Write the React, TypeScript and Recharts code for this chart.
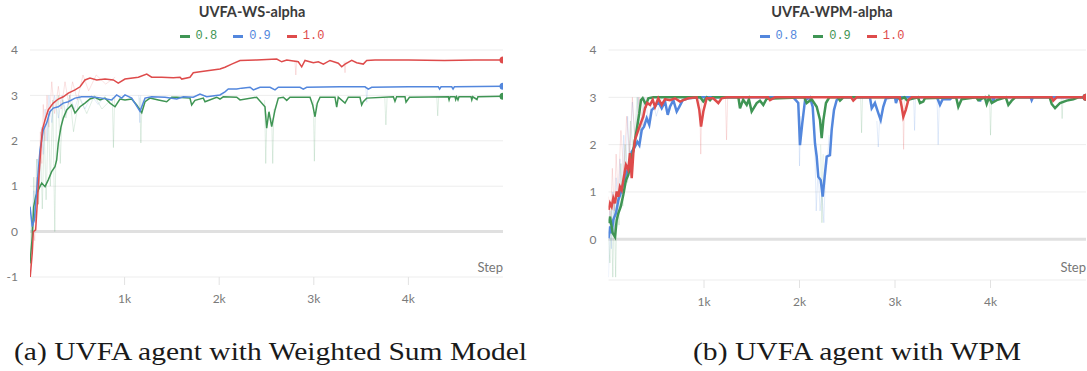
import React from 'react';
import { LineChart, Line, XAxis, YAxis, CartesianGrid, ReferenceLine } from 'recharts';

type Pt = [number, number | null];

const GREEN = '#3f9554';
const BLUE = '#5387dd';
const RED = '#de4b4b';

const X_TICKS = [1000, 2000, 3000, 4000];
const X_TICK_LABELS = ['1k', '2k', '3k', '4k'];
const WS_Y_TICKS = [-1, 0, 1, 2, 3, 4];
const WPM_Y_TICKS = [0, 1, 2, 3, 4];

// UVFA-WS-alpha, smoothed  (step, value)
const wsGreen: Pt[] = [
  [0, -0.7], [24, -0.11], [39, 0.55], [60, 0.77], [88, 0.92], [124, 1.07], [159, 0.99], [193, 1.14],
  [229, 1.32], [264, 1.43], [282, 1.58], [299, 1.95], [328, 2.31], [352, 2.5], [388, 2.68], [441, 2.79],
  [476, 2.61], [529, 2.75], [581, 2.83], [634, 2.92], [687, 2.96], [740, 2.9], [793, 2.94], [846, 2.83],
  [899, 2.75], [951, 2.92], [1004, 2.9], [1075, 2.92], [1128, 2.79], [1181, 2.62], [1216, 2.86], [1268, 2.94],
  [1357, 2.9], [1445, 2.86], [1498, 2.96], [1551, 2.96], [1691, 2.94], [1709, 2.79], [1744, 2.89], [1832, 2.94],
  [1850, 2.86], [1973, 2.96], [2008, 2.92], [2043, 2.97], [2185, 2.96], [2220, 2.9], [2396, 2.96], [2484, 2.75],
  [2502, 2.28], [2526, 2.64], [2555, 2.31], [2590, 2.68], [2625, 2.94], [2678, 2.96], [2714, 2.89], [2748, 2.96],
  [2960, 2.96], [2988, 2.79], [3013, 2.53], [3037, 2.83], [3066, 2.96], [3224, 2.96], [3242, 2.74], [3259, 2.96],
  [3330, 2.83], [3365, 2.96], [3488, 2.96], [3506, 2.79], [3523, 2.86], [3559, 2.94], [3841, 2.97], [3858, 2.87],
  [3876, 2.97], [3964, 2.97], [3975, 2.85], [4011, 2.96], [4422, 2.97], [4430, 2.9], [4440, 2.97], [4493, 2.97],
  [4500, 2.91], [4510, 2.97], [4524, 2.9], [4535, 2.97], [4662, 2.97], [4670, 2.9], [4680, 2.97], [4725, 2.91],
  [4735, 2.97], [5000, 2.98],
];
const wsBlue: Pt[] = [
  [0, 0.55], [24, 0.11], [46, 0.26], [71, 0.92], [106, 1.8], [141, 2.24], [176, 2.39], [211, 2.64],
  [246, 2.72], [299, 2.75], [352, 2.83], [405, 2.86], [476, 2.94], [546, 2.97], [652, 2.97], [758, 2.94],
  [864, 2.9], [916, 3.01], [969, 2.94], [1004, 3.01], [1075, 2.94], [1163, 2.65], [1216, 2.94], [1286, 2.97],
  [1427, 2.96], [1551, 2.92], [1621, 2.97], [1726, 2.96], [1797, 3.03], [1868, 2.97], [2008, 3.01], [2061, 3.08],
  [2096, 3.14], [2185, 3.14], [2238, 3.16], [2326, 3.18], [2361, 3.12], [2431, 3.18], [2537, 3.18], [2590, 3.12],
  [2625, 3.18], [2854, 3.18], [2889, 3.14], [2925, 3.18], [3277, 3.19], [3541, 3.19], [3576, 3.14], [3612, 3.18],
  [4000, 3.19], [4316, 3.19], [4330, 3.14], [4345, 3.19], [4458, 3.19], [4472, 3.14], [4486, 3.19], [5000, 3.2],
];
const wsRed: Pt[] = [
  [0, -1.05], [24, -0.47], [35, 0.0], [60, 0.04], [81, 0.77], [106, 1.58], [130, 2.24], [159, 2.46],
  [193, 2.68], [246, 2.83], [299, 2.92], [352, 2.97], [405, 3.05], [476, 3.12], [529, 3.19], [581, 3.34],
  [634, 3.38], [705, 3.34], [793, 3.36], [881, 3.34], [933, 3.27], [1004, 3.36], [1145, 3.4], [1234, 3.47],
  [1286, 3.4], [1392, 3.4], [1515, 3.39], [1586, 3.4], [1604, 3.36], [1691, 3.4], [1726, 3.5], [1797, 3.52],
  [2008, 3.58], [2061, 3.62], [2132, 3.69], [2220, 3.77], [2396, 3.78], [2608, 3.8], [2661, 3.74], [2714, 3.78],
  [2836, 3.74], [2872, 3.63], [2907, 3.77], [2995, 3.72], [3048, 3.74], [3101, 3.69], [3171, 3.77], [3259, 3.71],
  [3295, 3.63], [3330, 3.69], [3401, 3.77], [3453, 3.72], [3523, 3.69], [3559, 3.77], [3647, 3.78], [4000, 3.78],
  [4380, 3.77], [4700, 3.78], [5000, 3.78],
];

// UVFA-WS-alpha, raw (faint) segments, null breaks the line
const wsGreenRaw: Pt[] = [
  [0, -0.8], [15, 0.3], [25, -0.3], [40, 1.2], [55, 0.2], [70, 1.6], [90, 0.6], [110, 1.9], [130, 0.5],
  [150, 2.3], [170, 0.7], [195, 2.6], [215, 1.0], [240, 2.9], [262, 0.0], [280, 2.7], [300, 3.0], [320, 1.5],
  [345, 2.9], [380, 2.5], [420, 3.0], [460, 2.2], [520, 2.95], [600, 2.6], [680, 3.0], [760, 2.7], [880, 2.96],
  [0, null], [870, 2.95], [882, 1.85], [895, 2.95], [0, null], [1160, 2.95], [1172, 1.95], [1185, 2.9], [0, null],
  [2480, 2.9], [2492, 1.5], [2505, 2.6], [0, null], [2555, 2.5], [2566, 1.5], [2578, 2.7], [0, null],
  [2995, 2.9], [3006, 1.55], [3018, 2.8], [0, null], [3750, 2.96], [3762, 2.35], [3775, 2.96], [0, null],
  [4300, 2.96], [4310, 2.55], [4320, 2.96],
];
const wsBlueRaw: Pt[] = [
  [0, 0.6], [20, 0.0], [40, 0.9], [60, 0.3], [80, 1.6], [100, 1.0], [120, 2.3], [140, 1.7], [160, 2.7],
  [180, 2.0], [200, 3.0], [230, 2.4], [260, 3.0], [300, 2.5], [340, 3.0], [380, 2.6], [420, 3.0], [470, 2.7],
  [520, 3.0], [580, 2.7], [650, 3.0], [720, 2.8], [800, 3.0], [0, null], [1150, 3.0], [1160, 2.4], [1170, 3.0],
  [0, null], [3550, 3.18], [3560, 2.85], [3570, 3.18],
];
const wsRedRaw: Pt[] = [
  [0, -1.0], [30, 0.3], [50, -0.2], [70, 1.2], [90, 0.6], [110, 2.2], [125, 1.5], [140, 2.8], [160, 2.0],
  [180, 3.0], [200, 2.3], [230, 3.3], [260, 2.6], [300, 3.2], [330, 2.7], [370, 3.3], [410, 2.8], [450, 3.3],
  [500, 2.9], [560, 3.45], [620, 3.1], [700, 3.45], [800, 3.25], [900, 3.4], [0, null],
  [2800, 3.78], [2810, 3.45], [2820, 3.78], [0, null], [3320, 3.75], [3330, 3.5], [3340, 3.75],
];

// UVFA-WPM-alpha, smoothed  (step, value)
const wpmBlue: Pt[] = [
  [0, 0.02], [16, 0.27], [33, 0.13], [50, 0.41], [78, 0.55], [103, 0.83], [138, 1.04], [173, 1.32],
  [207, 1.5], [243, 1.85], [277, 1.96], [302, 2.06], [323, 1.99], [348, 2.31], [372, 2.38], [400, 2.56],
  [427, 2.42], [452, 2.73], [487, 2.8], [521, 2.91], [557, 2.77], [592, 2.91], [620, 2.63], [644, 2.8],
  [679, 2.94], [714, 2.7], [741, 2.8], [777, 2.94], [836, 2.98], [958, 3.0], [1935, 3.0], [1987, 2.88],
  [2005, 1.99], [2029, 2.45], [2058, 2.94], [2110, 3.0], [2138, 2.8], [2162, 2.03], [2180, 1.75], [2197, 1.32],
  [2222, 1.25], [2243, 0.9], [2267, 1.4], [2285, 1.75], [2319, 1.78], [2337, 2.31], [2361, 2.73], [2389, 2.94],
  [2424, 3.0], [2738, 3.0], [2756, 2.77], [2790, 2.88], [2826, 2.66], [2850, 2.52], [2877, 2.8], [2906, 2.98],
  [3000, 3.0], [3010, 2.88], [3030, 3.0], [3440, 3.0], [3471, 2.84], [3499, 2.96], [3576, 2.96], [3600, 3.0],
  [3880, 3.0], [3890, 2.91], [3900, 3.0], [4020, 3.0], [4029, 2.91], [4040, 3.0], [4420, 3.0], [4431, 2.94],
  [4445, 3.0], [5000, 3.0],
];
const wpmGreen: Pt[] = [
  [0, 0.34], [16, 0.48], [44, 0.13], [68, 0.05], [86, 0.41], [103, 0.55], [128, 0.69], [155, 0.94],
  [183, 1.25], [207, 1.36], [243, 1.71], [267, 1.96], [295, 2.31], [322, 2.66], [340, 2.94], [358, 2.98],
  [393, 2.84], [417, 2.98], [469, 3.0], [960, 3.0], [993, 2.91], [1030, 3.0], [1063, 2.94], [1090, 3.0],
  [1360, 3.0], [1377, 2.77], [1410, 2.95], [1447, 2.84], [1470, 2.96], [1499, 2.7], [1552, 2.88], [1586, 2.93],
  [1621, 2.84], [1656, 2.97], [2050, 3.0], [2075, 2.88], [2128, 2.96], [2180, 2.8], [2215, 2.52], [2232, 2.14],
  [2250, 2.52], [2277, 2.88], [2312, 3.0], [2400, 3.0], [2424, 2.93], [2459, 3.0], [3030, 3.0], [3052, 2.96],
  [3100, 3.0], [3122, 2.94], [3240, 3.0], [3262, 2.88], [3296, 2.91], [3314, 2.98], [3640, 3.0], [3663, 2.8],
  [3698, 2.96], [3850, 3.0], [3872, 2.94], [3940, 3.0], [3960, 2.86], [3985, 3.0], [4013, 2.88], [4065, 2.94],
  [4160, 3.0], [4187, 2.84], [4222, 2.93], [4260, 3.0], [4620, 3.0], [4641, 2.86], [4676, 2.77], [4728, 2.88],
  [4798, 2.93], [4867, 2.96], [4920, 3.0], [5000, 3.0],
];
const wpmRed: Pt[] = [
  [0, 0.62], [16, 0.76], [33, 0.69], [50, 0.87], [68, 0.76], [86, 1.01], [103, 0.9], [120, 1.11],
  [138, 1.04], [155, 1.25], [183, 1.57], [207, 1.47], [225, 1.82], [243, 1.29], [260, 1.82], [277, 2.1],
  [312, 2.31], [337, 2.45], [364, 2.59], [382, 2.77], [406, 2.88], [435, 2.84], [463, 2.95], [487, 2.8],
  [521, 2.98], [557, 2.84], [592, 2.96], [644, 2.94], [696, 2.98], [749, 2.91], [783, 2.94], [836, 2.98],
  [923, 3.0], [951, 2.73], [969, 2.38], [993, 2.7], [1028, 2.98], [1097, 2.98], [1150, 2.88], [1185, 2.98],
  [1238, 3.0], [1670, 3.0], [1691, 2.94], [1743, 3.0], [2540, 3.0], [2563, 2.93], [2598, 3.0], [3050, 3.0],
  [3070, 2.8], [3087, 2.59], [3112, 2.73], [3139, 2.94], [3174, 3.0], [4640, 3.0], [4657, 2.93], [4692, 3.0],
  [5000, 3.0],
];

// UVFA-WPM-alpha, raw (faint) segments
const wpmBlueRaw: Pt[] = [
  [0, -0.8], [15, 0.6], [30, -0.2], [45, 1.0], [60, 0.1], [80, 1.3], [100, 0.5], [120, 1.7], [140, 0.9],
  [160, 2.2], [180, 1.3], [200, 2.6], [220, 1.7], [250, 2.9], [280, 2.0], [310, 3.0], [340, 2.3], [380, 3.0],
  [420, 2.5], [460, 3.0], [500, 2.6], [560, 3.0], [0, null], [1990, 2.9], [2000, 1.55], [2012, 2.6], [0, null],
  [2160, 2.0], [2175, 0.6], [2195, 1.5], [2215, 0.6], [2235, 1.0], [2255, 0.35], [2270, 1.3], [2290, 1.6],
  [2310, 2.2], [0, null], [2810, 2.5], [2825, 1.95], [2840, 2.6], [0, null], [3440, 3.0], [3452, 2.0],
  [3465, 3.0], [0, null], [3195, 3.0], [3205, 2.3], [3215, 3.0],
];
const wpmGreenRaw: Pt[] = [
  [0, 0.0], [15, -0.5], [30, 0.7], [45, -0.8], [60, 0.8], [75, -0.8], [90, 1.0], [110, 0.3], [130, 1.6],
  [150, 0.7], [175, 2.0], [200, 1.2], [230, 2.5], [260, 1.8], [300, 3.0], [330, 2.2], [370, 3.0], [0, null],
  [2222, 2.0], [2235, 0.35], [2248, 1.8], [0, null], [2640, 3.0], [2650, 2.25], [2660, 3.0], [0, null],
  [3990, 3.0], [4000, 2.2], [4012, 3.0], [0, null], [4740, 3.0], [4750, 2.55], [4760, 3.0],
];
const wpmRedRaw: Pt[] = [
  [0, 0.9], [20, 0.3], [40, 1.5], [60, 0.6], [80, 1.8], [100, 0.9], [130, 2.3], [160, 1.4], [190, 2.6],
  [220, 1.8], [250, 3.0], [280, 2.0], [320, 3.0], [360, 2.4], [400, 3.0], [0, null], [955, 3.0], [966, 1.8],
  [978, 3.0], [0, null], [1225, 3.0], [1236, 2.1], [1248, 3.0], [0, null], [3080, 3.0], [3090, 1.9], [3100, 3.0],
];

const WS_SERIES = [
  { name: '0.8', color: GREEN, data: wsGreen, raw: wsGreenRaw },
  { name: '0.9', color: BLUE, data: wsBlue, raw: wsBlueRaw },
  { name: '1.0', color: RED, data: wsRed, raw: wsRedRaw },
];
const WPM_SERIES = [
  { name: '0.8', color: BLUE, data: wpmBlue, raw: wpmBlueRaw },
  { name: '0.9', color: GREEN, data: wpmGreen, raw: wpmGreenRaw },
  { name: '1.0', color: RED, data: wpmRed, raw: wpmRedRaw },
];

const tickFont = { fill: '#7a7a7a', fontSize: 12, fontFamily: 'Lato, "Open Sans", sans-serif' };

const toRows = (pts: Pt[]) => pts.map(([step, v]) => ({ step: v === null ? null : step, v }));

const endDot = (color: string, n: number) => (p: any) =>
  p.index === n - 1 ? (
    <circle key={`d-${p.index}`} cx={p.cx} cy={p.cy} r={3.5} fill={color} />
  ) : (
    <g key={`d-${p.index}`} />
  );

interface PanelProps {
  left: number;
  width: number;
  height: number;
  marginLeft: number;
  marginRight: number;
  title: string;
  series: { name: string; color: string; data: Pt[]; raw: Pt[] }[];
  yDomain: [number, number];
  yTicks: number[];
  strokeWidth: number;
  centerX: number;
}

const Panel: React.FC<PanelProps> = (p) => {
  const plotRight = p.width - p.marginRight;
  return (
    <div style={{ position: 'absolute', left: p.left, top: 0, width: p.width, height: p.height }}>
      <LineChart width={p.width} height={p.height} margin={{ top: 50, right: p.marginRight, left: p.marginLeft, bottom: 0 }}>
        <CartesianGrid vertical={false} stroke="#ededed" />
        <XAxis
          type="number"
          dataKey="step"
          domain={[0, 5000]}
          ticks={X_TICKS}
          tickFormatter={(v: number) => X_TICK_LABELS[X_TICKS.indexOf(v)]}
          axisLine={false}
          tickLine={{ stroke: '#e2e2e2' }}
          tickSize={8}
          tickMargin={9}
          tick={tickFont}
          height={30}
          allowDataOverflow
        />
        <YAxis
          type="number"
          domain={p.yDomain}
          ticks={p.yTicks}
          interval={0}
          axisLine={false}
          tickLine={false}
          tickSize={0}
          tickMargin={12}
          tick={tickFont}
          width={22}
          allowDataOverflow
        />
        <ReferenceLine y={0} stroke="#e0e0e0" strokeWidth={3} />
        {p.series.map((s) => (
          <Line
            key={`raw-${s.name}`}
            data={toRows(s.raw)}
            dataKey="v"
            type="linear"
            stroke={s.color}
            strokeOpacity={0.16}
            strokeWidth={1}
            dot={false}
            activeDot={false}
            connectNulls={false}
            isAnimationActive={false}
          />
        ))}
        {p.series.map((s) => (
          <Line
            key={s.name}
            data={toRows(s.data)}
            dataKey="v"
            type="linear"
            stroke={s.color}
            strokeWidth={p.strokeWidth}
            dot={endDot(s.color, s.data.length)}
            activeDot={false}
            isAnimationActive={false}
          />
        ))}
      </LineChart>
      <div
        style={{
          position: 'absolute', left: plotRight - 60, width: 60, top: 259, textAlign: 'right',
          fontFamily: 'Lato, sans-serif', fontSize: 13, color: '#777',
        }}
      >
        Step
      </div>
      <div
        style={{
          position: 'absolute', left: p.centerX - 150, width: 300, top: 3, textAlign: 'center',
          fontFamily: 'Lato, sans-serif', fontWeight: 700, fontSize: 14.5, color: '#3b3b3b',
        }}
      >
        {p.title}
      </div>
      <div
        style={{
          position: 'absolute', left: p.centerX - 150, width: 300, top: 29, display: 'flex',
          justifyContent: 'center', gap: 16, fontFamily: '"Liberation Mono", monospace', fontSize: 12,
        }}
      >
        {p.series.map((s) => (
          <span key={s.name} style={{ display: 'flex', alignItems: 'center', color: s.color }}>
            <span style={{ display: 'inline-block', width: 10, height: 3, background: s.color, marginRight: 6 }} />
            {s.name}
          </span>
        ))}
      </div>
    </div>
  );
};

const CAPTIONS = ['(a) UVFA agent with Weighted Sum Model', '(b) UVFA agent with WPM'];

export default function App() {
  return (
    <div style={{ position: 'absolute', left: 0, top: 0, width: 1087, height: 371, background: '#fff', overflow: 'hidden' }}>
      <Panel
        left={0} width={540} height={307} marginLeft={8} marginRight={37}
        title="UVFA-WS-alpha" series={WS_SERIES} yDomain={[-1, 4]} yTicks={WS_Y_TICKS}
        strokeWidth={1.5} centerX={252}
      />
      <Panel
        left={545} width={542} height={310} marginLeft={41.5} marginRight={1}
        title="UVFA-WPM-alpha" series={WPM_SERIES} yDomain={[-0.86, 4]} yTicks={WPM_Y_TICKS}
        strokeWidth={2.5} centerX={287}
      />
      <svg width={1087} height={371} style={{ position: 'absolute', left: 0, top: 0, pointerEvents: 'none' }}>
        <text x={14} y={360} fontFamily="Liberation Serif" fontSize={25} fill="#1a1a1a"
          textLength={513} lengthAdjust="spacingAndGlyphs">
          {CAPTIONS[0]}
        </text>
        <text x={693} y={360} fontFamily="Liberation Serif" fontSize={25} fill="#1a1a1a"
          textLength={328} lengthAdjust="spacingAndGlyphs">
          {CAPTIONS[1]}
        </text>
      </svg>
    </div>
  );
}
